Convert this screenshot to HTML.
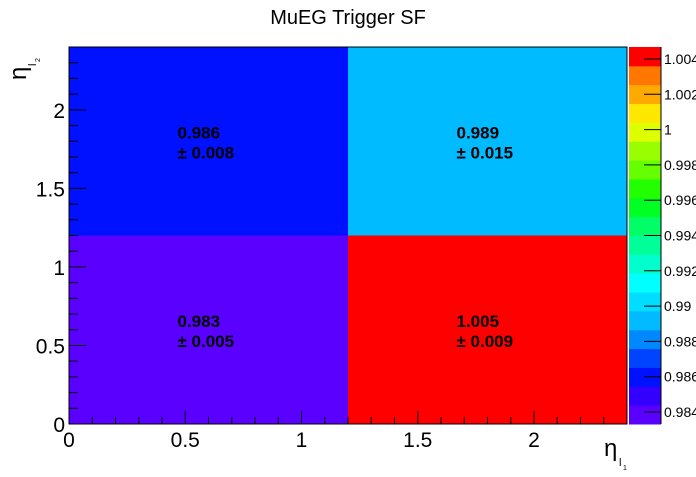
<!DOCTYPE html>
<html><head><meta charset="utf-8"><style>
body{margin:0;background:#fff;}
svg text{font-family:"Liberation Sans",sans-serif;}
</style></head><body>
<svg id="c" width="696" height="472" xmlns="http://www.w3.org/2000/svg"></svg>
<script>
const xEdges=[0,1.2,2.4];
const yEdges=[0,1.2,2.4];
const cellValues=[[0.983,1.005],[0.986,0.989]]; // [row y][col x]
const cellErrors=[[0.005,0.009],[0.008,0.015]];
const xTicks=[0,0.5,1,1.5,2];
const yTicks=[0,0.5,1,1.5,2];
const zTicks=[0.984,0.986,0.988,0.99,0.992,0.994,0.996,0.998,1,1.002,1.004];
const zMin=0.98332, zMax=1.00468;
const palette=["#5a00ff","#3300ff","#0011ff","#0044ff","#0088ff","#00bbff","#00ddff","#00ffff","#00ffcc","#00ff99","#00ff66","#00ff22","#22ff00","#66ff00","#99ff00","#ddff00","#ffe800","#ffaa00","#ff7700","#ff3300","#ff0000"];
const X0=69,X1=627,Y0=424,Y1=47;
const sx=v=>X0+(v-0)/2.4*(X1-X0);
const sy=v=>Y0-(v-0)/2.4*(Y0-Y1);
const CB0=629,CB1=661;
const sz=v=>Y0-(v-zMin)/(zMax-zMin)*(Y0-Y1);
const NS="http://www.w3.org/2000/svg";
const svg=document.getElementById('c');
function mk(t,a,p){const e=document.createElementNS(NS,t);for(const k in a)e.setAttribute(k,a[k]);(p||svg).appendChild(e);return e;}
const nb=20;
function col(v){let i=Math.floor((v-zMin)/(zMax-zMin)*nb);if(i<0)i=0;if(i>=nb)i=nb-1;return palette[i+ (i==nb-1?1:0)];}
let t=mk('text',{x:348,y:24,'font-size':20,'text-anchor':'middle'});t.textContent='MuEG Trigger SF';

for(let r=0;r<2;r++)for(let c=0;c<2;c++){
 const v=cellValues[r][c];
 const re=mk('rect',{x:sx(xEdges[c]),y:sy(yEdges[r+1]),width:sx(xEdges[c+1])-sx(xEdges[c]),height:sy(yEdges[r])-sy(yEdges[r+1]),fill:col(v)});
 
 const cx=(sx(xEdges[c])+sx(xEdges[c+1]))/2, cy=(sy(yEdges[r])+sy(yEdges[r+1]))/2;
 const a=mk('text',{x:cx-31,y:cy-3,'font-size':17,'font-weight':'bold'});a.textContent=v.toFixed(3);
 
 const b=mk('text',{x:cx-31,y:cy+17,'font-size':17,'font-weight':'bold'});b.textContent='± '+cellErrors[r][c].toFixed(3);
 
}
mk('rect',{x:X0,y:Y1,width:X1-X0,height:Y0-Y1,fill:'none',stroke:'#000','stroke-width':1});
for(let i=0;i<=24;i++){const v=i*0.1,x=sx(v);mk('line',{x1:x,x2:x,y1:Y0,y2:Y0-(i%5==0?13:7),stroke:'#000'});}
xTicks.forEach(v=>{const e=mk('text',{x:sx(v),y:Y0+23,'font-size':21,'text-anchor':'middle'});e.textContent=String(v);
 });
for(let i=0;i<=24;i++){const v=i*0.1,y=sy(v);mk('line',{x1:X0,x2:X0+(i%5==0?17:9),y1:y,y2:y,stroke:'#000'});}
yTicks.forEach(v=>{const e=mk('text',{x:X0-4,y:sy(v)+8,'font-size':21,'text-anchor':'end'});e.textContent=String(v);
 });
let xt=mk('text',{x:604,y:456,'font-size':24});xt.textContent='η';

mk('text',{x:619,y:466,'font-size':11}).textContent='l';mk('text',{x:623,y:470,'font-size':7}).textContent='1';
let g=mk('g',{transform:'translate(26,80) rotate(-90)'});
let yt=mk('text',{x:0,y:0,'font-size':24},g);yt.textContent='η';

mk('text',{x:14,y:10,'font-size':11},g).textContent='l';mk('text',{x:18,y:14,'font-size':7},g).textContent='2';
for(let i=0;i<nb;i++){const lo=zMin+i*(zMax-zMin)/nb,hi=zMin+(i+1)*(zMax-zMin)/nb;
 const e=mk('rect',{x:CB0,y:sz(hi),width:CB1-CB0,height:sz(lo)-sz(hi)+0.5,fill:palette[i+(i==nb-1?1:0)]});
 }
mk('line',{x1:CB1,x2:CB1,y1:Y1,y2:Y0,stroke:'#000'});
zTicks.forEach(v=>{const y=sz(v);mk('line',{x1:CB1-17,x2:CB1,y1:y,y2:y,stroke:'#000'});
 const e=mk('text',{x:CB1+3,y:y+5,'font-size':14});e.textContent=String(v);
 });
</script>
</body></html>
